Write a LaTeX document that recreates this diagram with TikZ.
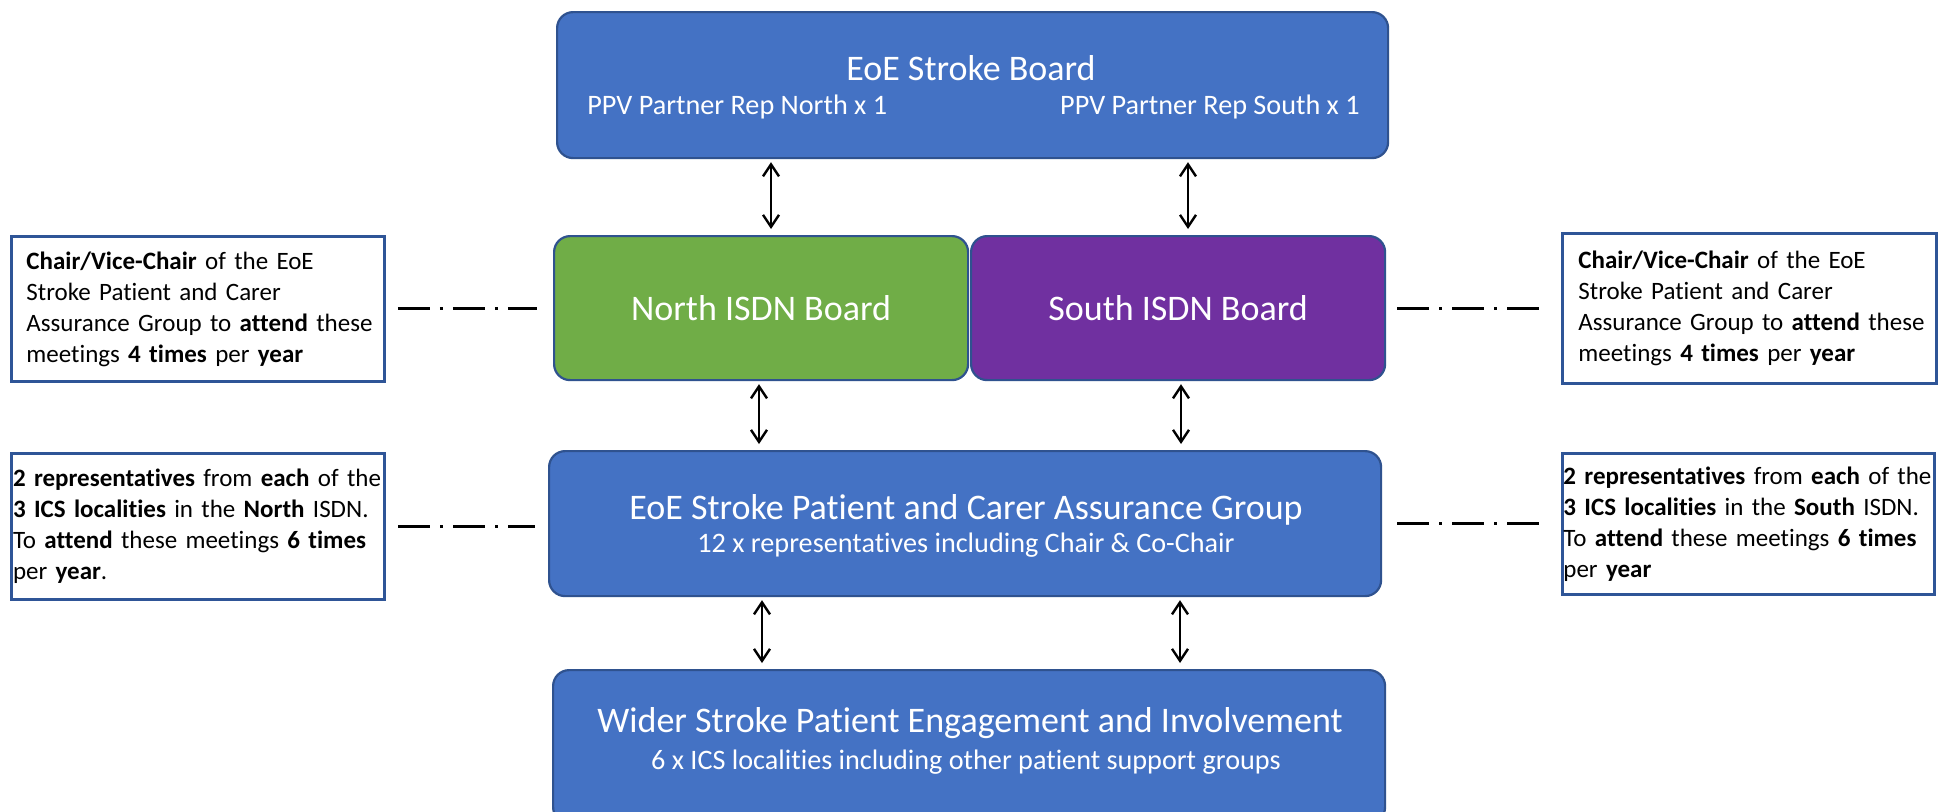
\documentclass[tikz,border=0pt]{standalone}
\usepackage{fontspec}
\setmainfont{Carlito}[Ligatures=NoCommon]
\usetikzlibrary{arrows.meta}

\definecolor{eoeblue}{HTML}{4472C4}
\definecolor{eoeedge}{HTML}{2F528F}
\definecolor{northgreen}{HTML}{70AD47}
\definecolor{southpurple}{HTML}{7030A0}
\definecolor{noteedge}{HTML}{2F5597}

\newcommand{\titlefont}{\fontsize{18}{21}\selectfont}
\newcommand{\subfont}{\fontsize{14.1}{17}\selectfont}
\newcommand{\notefont}{\fontsize{12.5}{15.5}\selectfont}

\tikzset{
  boardbox/.style={draw=eoeedge, line width=1.1pt, rounded corners=8pt, inner sep=0pt, anchor=north west, text=white, font=\titlefont},
  notebox/.style={draw=noteedge, line width=1.4pt, anchor=north west, inner ysep=0pt, align=left, font=\notefont},
  boardtext/.style={text=white, inner sep=0pt},
  link/.style={{Straight Barb[length=6pt,width=8pt]}-{Straight Barb[length=6pt,width=8pt]}, line width=1.2pt, shorten <=1.5pt, shorten >=3pt},
  tie/.style={line width=1.5pt, dash pattern=on 16pt off 5pt on 1.5pt off 5pt}
}

\begin{document}
\begin{tikzpicture}[x=0.5pt,y=-0.5pt]
    \clip (0,0) rectangle (1949,811);
    \fill[white] (0,0) rectangle (1949,811);
    \node[boardbox, fill=eoeblue, minimum width=415.5pt, minimum height=73pt] (board) at (556,11) {};
    \node[boardtext, font=\titlefont] (boardtitle) at (971,68) {EoE Stroke Board};
    \node[boardtext, font=\subfont, anchor=west] (ppvnorth) at (587,107) {PPV Partner Rep North x 1};
    \node[boardtext, font=\subfont, anchor=east] (ppvsouth) at (1360,107) {PPV Partner Rep South x 1};
    \node[boardbox, fill=northgreen, minimum width=207pt, minimum height=72pt] (north) at (553,235) {North ISDN Board};
    \node[boardbox, fill=southpurple, minimum width=207pt, minimum height=72pt] (south) at (970,235) {South ISDN Board};
    \node[boardbox, fill=eoeblue, minimum width=416pt, minimum height=72.5pt] (assur) at (548,450) {};
    \node[boardtext, font=\titlefont] (assurtitle) at (966,510) {EoE Stroke Patient and Carer Assurance Group};
    \node[boardtext, font=\subfont] (assursub) at (966,545) {12 x representatives including Chair \& Co-Chair};
    \node[boardbox, fill=eoeblue, minimum width=416pt, minimum height=76.5pt] (wider) at (552,669) {};
    \node[boardtext, font=\titlefont] (widertitle) at (970,723) {Wider Stroke Patient Engagement and Involvement};
    \node[boardtext, font=\subfont] (widersub) at (966,762) {6 x ICS localities including other patient support groups};
    \node[notebox, inner xsep=5pt, text width=176.5pt, minimum height=72.5pt] (leftchair) at (10,235)
      {\hspace*{2.5pt}\textbf{Chair/Vice-Chair} of the EoE\\ \hspace*{2.5pt}Stroke Patient and Carer\\ \hspace*{2.5pt}Assurance Group to \textbf{attend} these\\ \hspace*{2.5pt}meetings \textbf{4 times} per \textbf{year}};
    \node[notebox, inner xsep=0.8pt, text width=185pt, minimum height=73pt] (leftreps) at (10,452)
      {\textbf{2 representatives} from \textbf{each} of the\\ \textbf{3 ICS localities} in the \textbf{North} ISDN.\\ To \textbf{attend} these meetings \textbf{6 times}\\ per \textbf{year}.};
    \node[notebox, inner xsep=3pt, text width=181pt, minimum height=75pt] (rightchair) at (1561,232)
      {\hspace*{5pt}\textbf{Chair/Vice-Chair} of the EoE\\ \hspace*{5pt}Stroke Patient and Carer\\ \hspace*{5pt}Assurance Group to \textbf{attend} these\\ \hspace*{5pt}meetings \textbf{4 times} per \textbf{year}};
    \node[notebox, inner xsep=0.5pt, text width=185pt, minimum height=70.5pt] (rightreps) at (1561,452)
      {\textbf{2 representatives} from \textbf{each} of the\\ \textbf{3 ICS localities} in the \textbf{South} ISDN.\\ To \textbf{attend} these meetings \textbf{6 times}\\ per \textbf{year}};
    \draw[link] (board.south -| 771,0) -- (north.north -| 771,0);
    \draw[link] (board.south -| 1188,0) -- (south.north -| 1188,0);
    \draw[link] (north.south -| 759,0) -- (assur.north -| 759,0);
    \draw[link] (south.south -| 1181,0) -- (assur.north -| 1181,0);
    \draw[link] (assur.south -| 762,0) -- (wider.north -| 762,0);
    \draw[link] (assur.south -| 1180,0) -- (wider.north -| 1180,0);
    \draw[tie, shorten <=6pt, shorten >=8pt] (leftchair.east) -- (leftchair.east -| north.west);
    \draw[tie, shorten <=5.5pt, shorten >=11pt] (south.east) -- (south.east -| rightchair.west);
    \draw[tie, shorten <=6pt, shorten >=6.5pt] (leftreps.east) -- (leftreps.east -| assur.west);
    \draw[tie, shorten <=7.5pt, shorten >=11pt] (assur.east) -- (assur.east -| rightreps.west);
\end{tikzpicture}
\end{document}
